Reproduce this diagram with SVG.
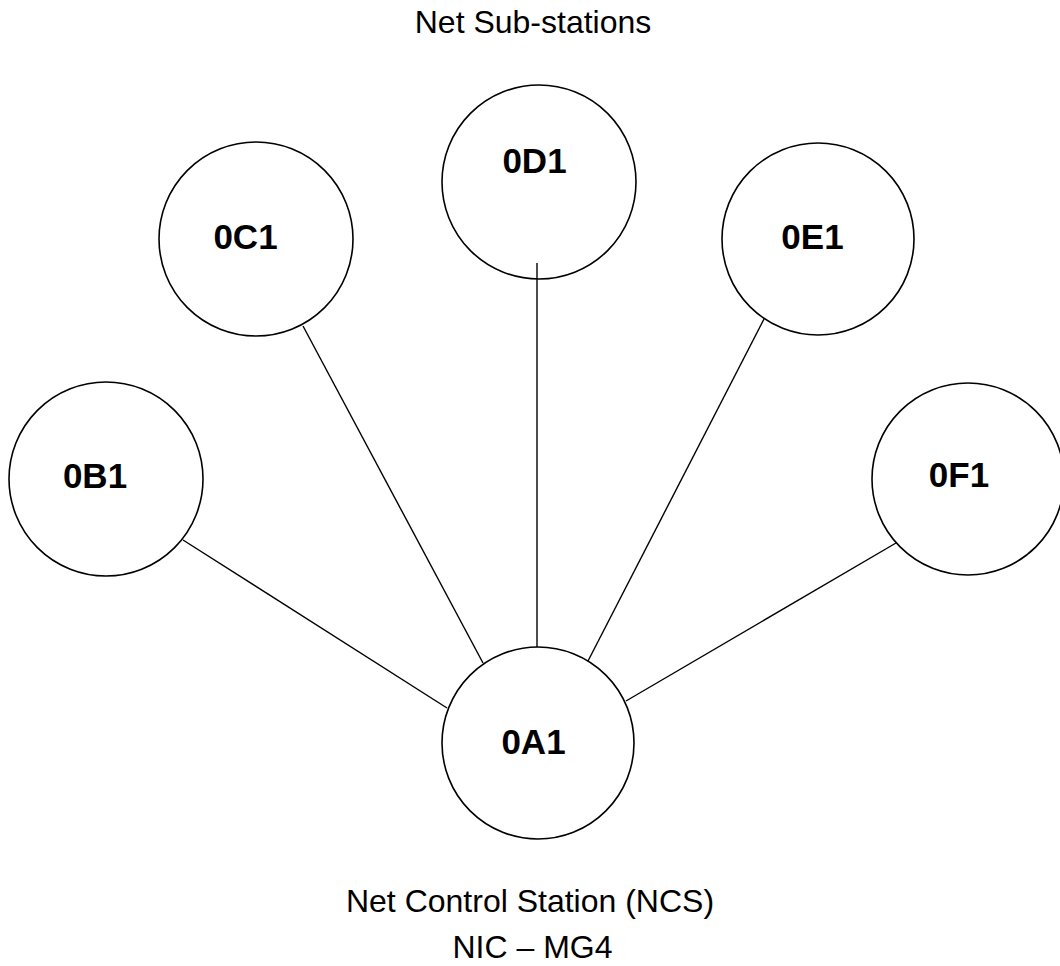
<svg xmlns="http://www.w3.org/2000/svg" width="1060" height="966" viewBox="0 0 1060 966">
<style>
.node{fill:#fff;stroke:#000;stroke-width:1.6}
.lbl{font-family:"Liberation Sans",Arial,sans-serif;font-weight:bold;font-size:35px;fill:#000;text-anchor:middle}
.cap{font-family:"Liberation Sans",Arial,sans-serif;font-size:32px;fill:#000;text-anchor:middle}
.edge{stroke:#000;stroke-width:1.4;fill:none}
</style>
<rect width="1060" height="966" fill="#fff"/>
<text class="cap" x="533" y="33">Net Sub-stations</text>
<g id="connectors">
<line class="edge" x1="183" y1="540" x2="447" y2="708"/>
<line class="edge" x1="303" y1="326" x2="483" y2="663"/>
<line class="edge" x1="537" y1="263" x2="537" y2="647"/>
<line class="edge" x1="764" y1="319" x2="588" y2="661"/>
<line class="edge" x1="896" y1="543" x2="626" y2="701"/>
</g>
<g id="n0D1"><circle class="node" cx="539" cy="182" r="97" fill-opacity="0"/><text class="lbl" x="534.5" y="173">0D1</text></g>
<g id="n0C1"><circle class="node" cx="256" cy="239" r="97" fill-opacity="0"/><text class="lbl" x="245.5" y="249">0C1</text></g>
<g id="n0B1"><circle class="node" cx="106" cy="479" r="97" fill-opacity="0"/><text class="lbl" x="95" y="488">0B1</text></g>
<g id="n0E1"><circle class="node" cx="818" cy="239" r="96" fill-opacity="0"/><text class="lbl" x="812.5" y="249">0E1</text></g>
<g id="n0F1"><circle class="node" cx="968" cy="479" r="96" fill-opacity="0"/><text class="lbl" x="959" y="487">0F1</text></g>
<g id="n0A1"><circle class="node" cx="538" cy="743" r="96" fill-opacity="0"/><text class="lbl" x="533.5" y="754">0A1</text></g>
<text class="cap" x="530" y="912">Net Control Station (NCS)</text>
<text class="cap" x="532.5" y="958">NIC – MG4</text>
</svg>
